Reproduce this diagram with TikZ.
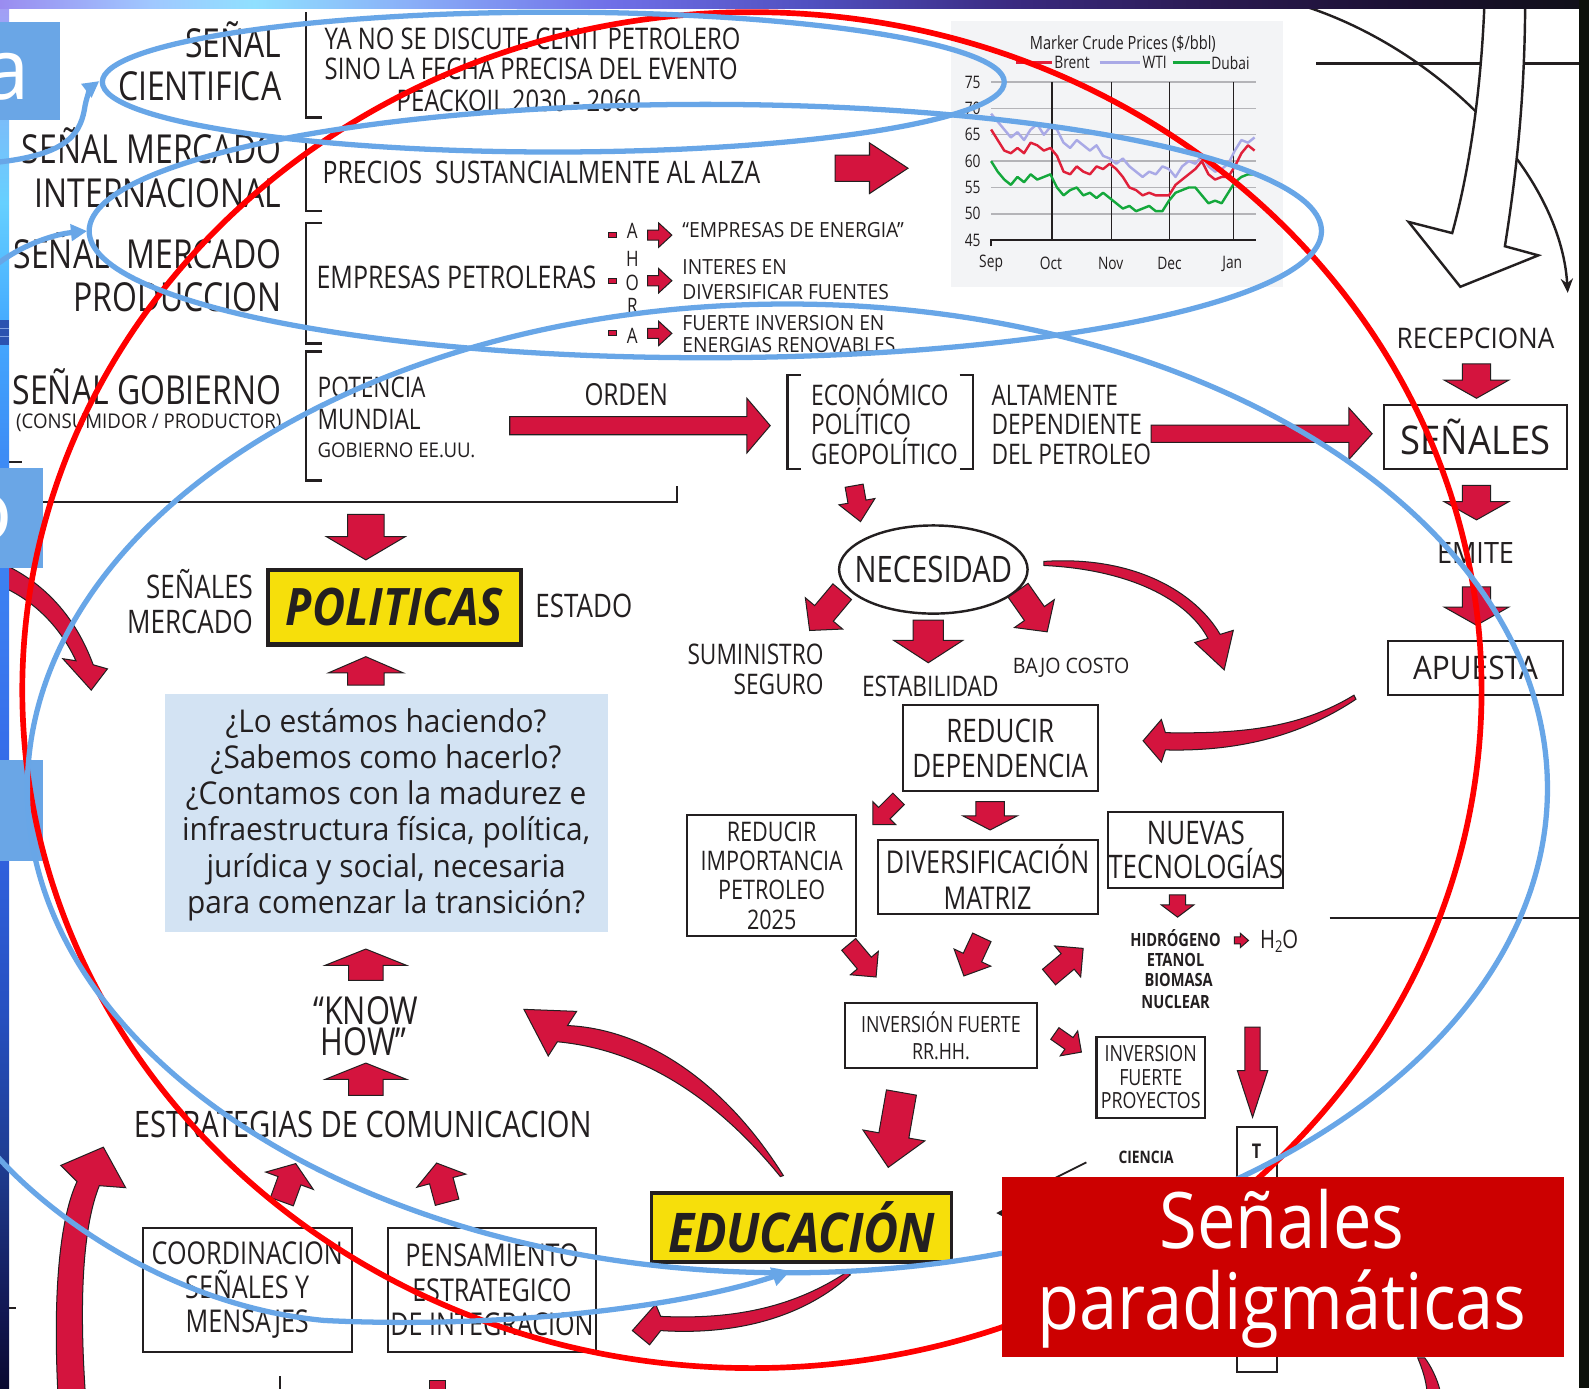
\documentclass[tikz,border=0pt]{standalone}
\usepackage{fontspec}
\usetikzlibrary{shapes.geometric,arrows.meta}
\newfontfamily\cf[FakeStretch=0.8]{Open Sans}
\newfontfamily\cfw[FakeStretch=0.92]{Open Sans}
\newfontfamily\qf[FakeStretch=0.95]{Open Sans}
\newfontfamily\pf[FakeStretch=0.88]{Open Sans}
\newfontfamily\tabf{Open Sans}
\newcommand\fz[2]{\fontsize{#1}{#2}\selectfont}
\definecolor{ink}{HTML}{231F20}
\definecolor{arrred}{HTML}{D4143E}
\definecolor{ylw}{HTML}{F6DF0B}
\definecolor{qblue}{HTML}{D3E3F3}
\definecolor{ovblue}{HTML}{68A6E7}
\definecolor{ovred}{HTML}{FF0000}
\definecolor{boxred}{HTML}{CC0000}
\definecolor{tabblue}{HTML}{6AA6E6}
\definecolor{chartbg}{HTML}{F3F4F6}
\definecolor{gridc}{HTML}{B4B4B8}
\definecolor{brent}{HTML}{E0203A}
\definecolor{wti}{HTML}{A9A9E6}
\definecolor{dubai}{HTML}{14A83C}
\definecolor{rdark}{HTML}{0D110B}
\definecolor{stripdk}{HTML}{2A52B0}
\definecolor{stripln}{HTML}{7FA0E0}
% left frame strip, top to bottom
\definecolor{ls1}{HTML}{A59CF5}
\definecolor{ls2}{HTML}{7FB9F8}
\definecolor{ls3}{HTML}{66D0FF}
\definecolor{ls4}{HTML}{44AAFF}
\definecolor{ls5}{HTML}{3D8CF5}
\definecolor{ls6}{HTML}{3B7CF0}
\definecolor{ls7}{HTML}{3366E6}
\definecolor{ls8}{HTML}{2650C0}
\definecolor{ls9}{HTML}{1E3C90}
\definecolor{ls10}{HTML}{121650}
\definecolor{ls11}{HTML}{0A0A30}
% top frame strip, left to right
\definecolor{ts1}{HTML}{9A8CF0}
\definecolor{ts2}{HTML}{A0C8FF}
\definecolor{ts3}{HTML}{90E0FF}
\definecolor{ts4}{HTML}{8AB0F8}
\definecolor{ts5}{HTML}{7070E8}
\definecolor{ts6}{HTML}{5050C0}
\definecolor{ts7}{HTML}{3A2A80}
\definecolor{ts8}{HTML}{2A1A50}
\definecolor{ts9}{HTML}{1A1030}
\definecolor{ts10}{HTML}{101018}
\pgfdeclareverticalshading{lstrip}{100bp}{color(0bp)=(ls11); color(25bp)=(ls11); color(27.55bp)=(ls10); color(33bp)=(ls9); color(38.5bp)=(ls8); color(45.8bp)=(ls7); color(52.4bp)=(ls6); color(58.6bp)=(ls5); color(63.3bp)=(ls4); color(67.7bp)=(ls3); color(71.35bp)=(ls2); color(75bp)=(ls1); color(100bp)=(ls1)}
\pgfdeclarehorizontalshading{tstrip}{100bp}{color(0bp)=(ts1); color(25bp)=(ts1); color(29.8bp)=(ts2); color(33bp)=(ts3); color(37.8bp)=(ts4); color(44.1bp)=(ts5); color(50.5bp)=(ts6); color(56.9bp)=(ts7); color(63.3bp)=(ts8); color(69.6bp)=(ts9); color(75bp)=(ts10); color(100bp)=(ts10)}

\begin{document}
\begin{tikzpicture}[x=0.5pt,y=-0.5pt,
  txt/.style={inner sep=0pt, text=ink},
  lab/.style={txt, font={\cf\fz{19.7pt}{21.5pt}}, align=right, anchor=base east},
  mid/.style={txt, font={\cf\fz{14.7pt}{15pt}}, align=left, anchor=base west},
  sml/.style={txt, font={\cfw\fz{10.3pt}{12pt}}, align=left, anchor=base west},
  box/.style={draw=ink, line width=1pt, fill=white, inner sep=0pt, text=ink, align=center},
  ybox/.style={draw=ink, line width=2pt, fill=ylw, inner sep=0pt, text=ink},
  brk/.style={draw=ink, line width=1.2pt},
  bar/.style={fill=arrred, draw=ink, line width=0.5pt, line join=miter},
  ovb/.style={draw=ovblue, line width=2.6pt},
  ovr/.style={draw=ovred, line width=2.8pt},
  ctxt/.style={txt, font={\cf\fz{8.5pt}{9pt}}},
  pics/barrow/.style n args={4}{code={
    \path[bar] ({-#1/2},{-#2/2}) -- ({#1/2-#4},{-#2/2}) -- ({#1/2-#4},{-#3/2}) -- ({#1/2},0)
      -- ({#1/2-#4},{#3/2}) -- ({#1/2-#4},{#2/2}) -- ({-#1/2},{#2/2}) -- cycle;}}
]
\useasboundingbox (0,0) rectangle (1568,1370);
\fill[white] (0,0) rectangle (1568,1370);

% ---------- price chart ----------
\fill[chartbg] (938,21) rectangle (1266,283);
\foreach \yy in {81,107,133,159,185,211} \draw[gridc, line width=0.7pt] (978,\yy) -- (1239,\yy);
\foreach \xx in {1038,1097,1154,1217} \draw[ink, line width=0.7pt] (\xx,81) -- (\xx,237);
\draw[ink, line width=0.8pt] (978,243) -- (978,237) -- (1239,237);
\foreach \v/\yy in {75/81,70/107,65/133,60/159,55/185,50/211,45/237}
  \node[ctxt, anchor=east] (yl\v) at (968,\yy) {\v};
\foreach \m/\xx in {Sep/978,Oct/1037,Nov/1096,Dec/1154,Jan/1216}
  \node[ctxt] (xl\m) at (\xx,260) {\m};
\node[ctxt, font={\cf\fz{9pt}{9pt}}] (ctitle) at (1108,43) {Marker Crude Prices (\$/bbl)};
\draw[brent, line width=1.6pt] (1003,62) -- (1038,62);
\node[ctxt, anchor=west] (lbrent) at (1040,62) {Brent};
\draw[wti, line width=1.6pt] (1085,62) -- (1125,62);
\node[ctxt, anchor=west] (lwti) at (1127,62) {WTI};
\draw[dubai, line width=1.6pt] (1157,62) -- (1194,62);
\node[ctxt, anchor=west] (ldubai) at (1195,62) {Dubai};
\begin{scope}[shift={(978,471)}, x=3.25pt, y=2.6pt, line width=1.2pt, line join=round]
  \draw[wti] plot coordinates {(0,69) (1,67.5) (2,66) (3,64.5) (4,65.5) (5,64) (6,66) (7,67) (8,65) (9,66.5) (10,66) (11,63.5) (12,62.5) (13,64) (14,63) (15,62) (16,63) (17,61) (18,60.5) (19,59.5) (20,60.5) (21,59) (22,58) (23,57) (24,58) (25,57.5) (26,59) (27,58.5) (28,57) (29,59) (30,60) (31,59.5) (32,61) (33,59) (34,58) (35,58.5) (36,59.5) (37,62) (38,64) (39,63.5) (40,64.5)};
  \draw[brent] plot coordinates {(0,66) (1,64) (2,62) (3,61.5) (4,62.5) (5,61.5) (6,63.5) (7,63) (8,62) (9,62.5) (10,61) (11,58) (12,57.5) (13,59) (14,58) (15,57.5) (16,59) (17,58.5) (18,59.5) (19,58.5) (20,57) (21,55) (22,54.5) (23,53.5) (24,54) (25,53.5) (26,53.5) (27,53.5) (28,55.5) (29,56.5) (30,57.5) (31,58.5) (32,60) (33,57.5) (34,56.5) (35,57) (36,57) (37,59) (38,61.5) (39,63) (40,62)};
  \draw[dubai] plot coordinates {(0,60) (1,58) (2,56.5) (3,55.5) (4,57) (5,56) (6,57.5) (7,56.5) (8,57) (9,57.5) (10,55) (11,53.5) (12,54.5) (13,55) (14,53.5) (15,54) (16,53) (17,54) (18,53) (19,52) (20,51) (21,51.5) (22,50.5) (23,51) (24,51.5) (25,50.5) (26,50.5) (27,52.5) (28,54) (29,54.5) (30,55) (31,55) (32,53.5) (33,52) (34,52.5) (35,52) (36,54) (37,56) (38,57) (39,57.5) (40,57.5)};
\end{scope}

% ---------- signal rows (multi-line nodes sit on the baseline of their last line) ----------
\node[lab] (lab1) at (278,99.5) {SEÑAL\\CIENTIFICA};
\node[lab] (lab2) at (278,204.5) {SEÑAL MERCADO\\INTERNACIONAL};
\node[lab] (lab3) at (278,307.5) {SEÑAL~~MERCADO\\PRODUCCION};
\node[lab] (lab4) at (278,399.5) {SEÑAL GOBIERNO};
\node[txt, font={\cfw\fz{10pt}{10pt}}, anchor=base east] (lab4b) at (278,423) {(CONSUMIDOR / PRODUCTOR)};

\draw[brk] (302,12) -- (302,116) -- (318,116);
\draw[brk] (302,141) -- (302,208) -- (318,208);
\draw[brk] (318,220) -- (302,220) -- (302,339) -- (318,339);
\draw[brk] (318,347) -- (302,347) -- (302,474) -- (318,474);
\draw[ink, line width=1pt] (8,495) -- (668,495) -- (668,480);
\draw[ink, line width=1pt] (8,456) -- (22,456);

\node[mid] (sc) at (320,78.5) {YA NO SE DISCUTE CENIT PETROLERO\\SINO LA FECHA PRECISA DEL EVENTO};
\node[txt, font={\cf\fz{14.7pt}{15pt}}, anchor=base] (peak) at (512,110.5) {PEACKOIL 2030 - 2060};
\node[mid, font={\cf\fz{15.3pt}{15pt}}] (prec) at (318,181.5) {PRECIOS~~SUSTANCIALMENTE AL ALZA};
\pic (arPrec) at (860,166) {barrow={72}{26}{50}{38}};
\node[mid, font={\cf\fz{15.4pt}{16pt}}] (emp) at (312,285) {EMPRESAS PETROLERAS};

\foreach \yy in {231.5,277,329} \path[bar] (600,\yy-2.5) rectangle (608,\yy+2.5);
\node[txt, font={\cf\fz{10.5pt}{10pt}}, anchor=base] (ah1) at (624,235.5) {A};
\node[txt, font={\cf\fz{10.5pt}{10pt}}, anchor=base] (ah2) at (624,262.5) {H};
\node[txt, font={\cf\fz{10.5pt}{10pt}}, anchor=base] (ah3) at (624,286.5) {O};
\node[txt, font={\cf\fz{10.5pt}{10pt}}, anchor=base] (ah4) at (624,309.5) {R};
\node[txt, font={\cf\fz{10.5pt}{10pt}}, anchor=base] (ah5) at (624,338.5) {A};
\pic (sa1) at (651,232) {barrow={24}{10}{24}{13}};
\pic (sa2) at (651,277) {barrow={24}{10}{24}{13}};
\pic (sa3) at (651,329) {barrow={24}{10}{24}{13}};
\node[sml] (ener) at (673,234) {“EMPRESAS DE ENERGIA”};
\node[sml, font={\cfw\fz{10.3pt}{12.5pt}}] (dive) at (673,296) {INTERES EN\\DIVERSIFICAR FUENTES};
\node[sml, font={\cfw\fz{10.3pt}{11pt}}] (reno) at (673,348) {FUERTE INVERSION EN\\ENERGIAS RENOVABLES};

\node[mid, font={\cf\fz{14pt}{16pt}}] (pot) at (313,424) {POTENCIA\\MUNDIAL};
\node[txt, font={\cfw\fz{10pt}{10pt}}, anchor=base west] (gob) at (313,451) {GOBIERNO EE.UU.};
\node[txt, font={\cf\fz{15pt}{15pt}}, anchor=base] (orden) at (618,400) {ORDEN};
\pic (arOrden) at (631.5,420) {barrow={257}{18}{54}{23}};
\draw[brk] (790,370) -- (777,370) -- (777,463) -- (790,463);
\draw[brk] (947,370) -- (960,370) -- (960,463) -- (947,463);
\node[mid, font={\cf\fz{14pt}{14.5pt}}] (eco) at (800,458) {ECONÓMICO\\POLÍTICO\\GEOPOLÍTICO};
\node[mid, font={\cf\fz{14pt}{14.5pt}}] (alt) at (978,458) {ALTAMENTE\\DEPENDIENTE\\DEL PETROLEO};
\pic (arAlt) at (1245,428) {barrow={218}{17}{51}{23}};

% ---------- right column ----------
\draw[ink, line width=1.2pt] (1299,62.5) -- (1568,62.5);
\coordinate (tc1) at (1290,7);
\coordinate (tc2) at (1547,289);
\draw[ink, line width=1.2pt, -{Stealth[length=7pt,width=6pt]}] (tc1) .. controls (1420,50) and (1540,170) .. (tc2);
\path[fill=white, draw=ink, line width=1.2pt, line join=miter] (1465,-2) .. controls (1463,60) and (1455,150) .. (1433,230) -- (1390,219) -- (1441,283) -- (1518,252) -- (1485,243) .. controls (1495,180) and (1505,100) .. (1505,-2);
\draw[ink, line width=1.2pt] (1312,906) -- (1568,906);

\node[txt, font={\cfw\fz{14pt}{14pt}}, anchor=base] (recep) at (1456,344) {RECEPCIONA};
\pic[rotate=-90] (arR1) at (1457,376) {barrow={34}{28}{64}{18}};
\node[box, minimum width=90pt, minimum height=31.5pt, font={\cfw\fz{19.5pt}{20pt}}] (senales) at (1456,431.5) {SEÑALES};
\pic[rotate=-90] (arR2) at (1457,496) {barrow={34}{28}{64}{18}};
\node[txt, font={\cfw\fz{14.5pt}{14pt}}, anchor=base] (emite) at (1456,556) {EMITE};
\pic[rotate=-90] (arR3) at (1457,598) {barrow={38}{28}{64}{18}};
\node[box, minimum width=86pt, minimum height=26.5pt, font={\cfw\fz{16pt}{16pt}}] (apuesta) at (1456,659.5) {APUESTA};

% ---------- necesidad branch ----------
\pic[rotate=-80] (arNec) at (846,497) {barrow={36}{18}{36}{20}};
\node[draw=ink, line width=1.2pt, ellipse, minimum width=93pt, minimum height=43.5pt, inner sep=0pt, fill=white] (nec) at (921,562) {};
\node[txt, font={\cf\fz{18pt}{18pt}}] (nect) at (nec.center) {NECESIDAD};
\pic[rotate=-130] (arN1) at (815,603) {barrow={50}{24}{48}{22}};
\pic[rotate=-90] (arN2) at (916,633) {barrow={42}{30}{68}{22}};
\pic[rotate=-55] (arN3) at (1019,603) {barrow={50}{24}{48}{22}};
\node[txt, font={\cf\fz{14pt}{14.5pt}}, align=right, anchor=base east] (sum) at (813,685) {SUMINISTRO\\SEGURO};
\node[txt, font={\cf\fz{14pt}{14pt}}, anchor=base] (estab) at (918,687) {ESTABILIDAD};
\node[txt, font={\cfw\fz{10.5pt}{10pt}}, anchor=base] (bajo) at (1057,664.5) {BAJO COSTO};
\path[bar] (1030,554) .. controls (1120,548) and (1180,585) .. (1204,626) -- (1217,622) -- (1208,661) -- (1179,634) -- (1192,630) .. controls (1172,592) and (1115,562) .. (1030,558) -- cycle;
\path[bar] (1336,686) .. controls (1280,720) and (1220,724) .. (1150,723) -- (1146,710) -- (1128,731) -- (1146,752) -- (1150,740) .. controls (1230,742) and (1290,722) .. (1338,690) -- cycle;

\node[box, minimum width=96pt, minimum height=42.5pt, font={\cf\fz{16pt}{17.5pt}}] (redep) at (987,738.5) {REDUCIR\\DEPENDENCIA};
\pic[rotate=-135] (arD1) at (874,801) {barrow={36}{16}{32}{16}};
\pic[rotate=-90] (arD2) at (977,805) {barrow={28}{28}{54}{14}};
\node[box, minimum width=83.5pt, minimum height=60pt, font={\cf\fz{13.3pt}{14.5pt}}] (redimp) at (761.5,864) {REDUCIR\\IMPORTANCIA\\PETROLEO\\2025};
\node[box, minimum width=108.5pt, minimum height=36.5pt, font={\cf\fz{15.5pt}{18pt}}] (divers) at (974.5,865.5) {DIVERSIFICACIÓN\\MATRIZ};
\node[box, minimum width=86pt, minimum height=37.5pt, font={\cf\fz{16pt}{16.5pt}}] (nuevas) at (1180,838.5) {NUEVAS\\TECNOLOGÍAS};
\pic[rotate=-90] (arD3) at (1162,894) {barrow={22}{16}{32}{12}};
\node[txt, font={\cf\bfseries\fz{9pt}{9pt}}, anchor=base] (hid) at (1160,933.5) {HIDRÓGENO};
\pic (arH) at (1225,928) {barrow={14}{7}{14}{8}};
\node[txt, font={\cf\fz{12.5pt}{12pt}}, anchor=base west] (h2o) at (1243,935.5) {H\raisebox{-0.35ex}{\fz{8pt}{8pt}2}O};
\node[txt, font={\cf\bfseries\fz{9pt}{9pt}}, anchor=base] (etan) at (1160,953.5) {ETANOL};
\node[txt, font={\cf\bfseries\fz{9pt}{9pt}}, anchor=base] (biom) at (1163,973.5) {BIOMASA};
\node[txt, font={\cf\bfseries\fz{9pt}{9pt}}, anchor=base] (nucl) at (1160,995.5) {NUCLEAR};
\pic[rotate=-50] (arM1) at (851,948) {barrow={42}{18}{36}{18}};
\pic[rotate=-115] (arM2) at (960,944) {barrow={42}{20}{40}{20}};
\pic[rotate=40] (arM3) at (1052,950) {barrow={44}{20}{40}{20}};
\node[box, minimum width=94.5pt, minimum height=32pt, font={\cf\fz{11pt}{13pt}}] (invrh) at (928.5,1022) {INVERSIÓN FUERTE\\RR.HH.};
\pic[rotate=-35] (arM4) at (1054,1029) {barrow={32}{14}{30}{15}};
\node[box, minimum width=53.5pt, minimum height=40pt, font={\cf\fz{11pt}{11.5pt}}] (invpr) at (1135.5,1063) {INVERSION\\FUERTE\\PROYECTOS};
\pic[rotate=-90] (arLong) at (1236,1058) {barrow={89}{15}{30}{46}};
\node[box, minimum width=19.5pt, minimum height=121pt] (tbox) at (1240.5,1233) {};
\node[txt, font={\cf\bfseries\fz{10pt}{10pt}}, anchor=base] (tlet) at (1240,1143) {T};
\node[txt, font={\cf\bfseries\fz{8.5pt}{8pt}}, anchor=base] (cien) at (1131,1148) {CIENCIA};
\coordinate (cl1) at (1072,1147);
\coordinate (cl2) at (1030,1168);
\draw[ink, line width=0.9pt] (cl1) -- (cl2);
\pic[rotate=-100] (arEdu) at (883,1115) {barrow={75}{30}{62}{32}};

% ---------- politics / education branch ----------
\pic[rotate=-90] (arPol1) at (361,530) {barrow={45}{36}{78}{23}};
\node[txt, font={\cf\fz{16pt}{17pt}}, align=right, anchor=base east] (senmer) at (250,625) {SEÑALES\\MERCADO};
\node[ybox, minimum width=125pt, minimum height=37pt, font={\pf\bfseries\itshape\fz{25.5pt}{25pt}}] (polit) at (389,599) {POLITICAS};
\node[txt, font={\cf\fz{16pt}{16pt}}, anchor=base west] (estado) at (528,609) {ESTADO};
\pic[rotate=90] (arPol2) at (361,662) {barrow={28}{36}{74}{16}};
\node[fill=qblue, minimum width=218.5pt, minimum height=117.5pt, inner sep=0pt] (qbox) at (381.5,802.5) {};
\node[txt, font={\qf\fz{15.5pt}{17.8pt}}, align=center, anchor=base] (qtext) at (381,901) {¿Lo estámos haciendo?\\¿Sabemos como hacerlo?\\¿Contamos con la madurez e\\infraestructura física, política,\\jurídica y social, necesaria\\para comenzar la transición?};
\pic[rotate=90] (arK1) at (361,952) {barrow={31}{34}{80}{16}};
\node[txt, font={\cf\fz{19pt}{19pt}}, anchor=base] (know1) at (361,1010.5) {“KNOW};
\node[txt, font={\cf\fz{19pt}{19pt}}, anchor=base] (know2) at (359,1041.5) {HOW”};
\pic[rotate=90] (arK2) at (361,1065) {barrow={32}{34}{80}{16}};
\node[txt, font={\cf\fz{18pt}{17pt}}, anchor=base] (estr) at (358,1122) {ESTRATEGIAS DE COMUNICACION};
\pic[rotate=70] (arS1) at (285,1167) {barrow={40}{24}{50}{18}};
\pic[rotate=105] (arS2) at (436,1167) {barrow={40}{24}{50}{18}};
\node[box, minimum width=103pt, minimum height=61pt, font={\cf\fz{15.5pt}{17pt}}] (coord) at (244,1273) {COORDINACION\\SEÑALES Y\\MENSAJES};
\node[box, minimum width=102.5pt, minimum height=61pt, font={\cf\fz{15.5pt}{17pt}}] (pens) at (485.5,1273) {PENSAMIENTO\\ESTRATEGICO\\DE INTEGRACION};
\node[ybox, line width=1.8pt, minimum width=148pt, minimum height=34pt, font={\pf\bfseries\itshape\fz{27pt}{27pt}}] (educ) at (791,1211) {EDUCACIÓN};
\path[bar] (773,1160) .. controls (710,1060) and (630,1015) .. (560,1012) -- (569,998) -- (517,996) -- (541,1042) -- (550,1028) .. controls (625,1035) and (700,1075) .. (770,1161) -- cycle;
\path[bar] (836,1255) .. controls (780,1292) and (720,1302) .. (652,1299) -- (647,1287) -- (624,1313) -- (641,1327) -- (652,1313) .. controls (730,1318) and (795,1298) .. (839,1258) -- cycle;
\coordinate (ea1) at (1000,1197);
\coordinate (ea2) at (983,1197);
\draw[ink, line width=1pt, -{Triangle[length=5pt,width=5pt]}] (ea1) -- (ea2);

% side arrows
\path[bar] (0,555) .. controls (45,575) and (75,610) .. (92,656) -- (106,660) -- (90,681) -- (62,650) -- (75,652) .. controls (60,620) and (35,593) .. (0,578) -- cycle;
\path[bar] (57,1372) .. controls (52,1270) and (60,1200) .. (76,1166) -- (60,1150) -- (102,1132) -- (124,1172) -- (98,1170) .. controls (82,1210) and (78,1280) .. (84,1372) -- cycle;
\path[bar] (1399,1340) .. controls (1404,1352) and (1407,1362) .. (1408,1372) -- (1421,1372) .. controls (1418,1360) and (1412,1348) .. (1406,1340) -- cycle;
\draw[ink, line width=1pt] (276,1358) -- (276,1372);
\path[bar] (424,1362) rectangle (440,1374);
\draw[ink, line width=1pt] (8,1291) -- (16,1291);

% ---------- slide frame and tabs ----------
\shade[shading=lstrip] (0,0) rectangle (9,1370);
\shade[shading=tstrip] (0,0) rectangle (1568,8);
\fill[rdark] (1558,0) rectangle (1568,1370);
\fill[stripdk] (0,316) rectangle (9,340);
\draw[stripln, line width=0.6pt] (0,324) -- (9,324) (0,332) -- (9,332);
\fill[tabblue] (0,22) rectangle (59,118);
\node[inner sep=0pt, text=white, font={\tabf\fz{42pt}{42pt}}, anchor=base east] (taba) at (30,98) {a};
\fill[tabblue] (0,462) rectangle (42,560);
\node[inner sep=0pt, text=white, font={\tabf\fz{42pt}{42pt}}, anchor=base east] (tabo) at (13,533) {o};
\fill[tabblue] (0,750) rectangle (42,850);

% ---------- overlay rings ----------
\draw[ovr] (742,681) ellipse [x radius=720, y radius=669];
\draw[ovb] (546,81) ellipse [x radius=445, y radius=69];
\draw[ovb] (696,228) ellipse [x radius=608, y radius=125];
\draw[ovb] (777,778) ellipse [x radius=750, y radius=478];
\coordinate (ba1s) at (-2,160);
\coordinate (ba1e) at (98,80);
\draw[ovb, -{Triangle[length=8pt,width=8pt]}] (ba1s) .. controls (70,152) and (80,130) .. (84,104) .. controls (86,94) and (90,86) .. (ba1e);
\coordinate (ba2s) at (-2,260);
\coordinate (ba2e) at (86,228);
\draw[ovb, -{Triangle[length=8pt,width=8pt]}] (ba2s) .. controls (25,240) and (55,231) .. (ba2e);
\coordinate (ba3s) at (-2,1142);
\coordinate (ba3e) at (780,1254);
\draw[ovb, -{Triangle[length=9pt,width=9pt]}] (ba3s) .. controls (60,1210) and (180,1290) .. (320,1303) .. controls (500,1312) and (680,1288) .. (ba3e);

% ---------- caption box ----------
\node[fill=boxred, minimum width=277pt, minimum height=89pt, inner sep=0pt] (redbox) at (1266,1250) {};
\node[inner sep=0pt, text=white, font={\pf\fz{38.5pt}{40pt}}, align=center, anchor=base] (redtxt) at (1265,1312) {Señales\\paradigmáticas};
\end{tikzpicture}
\end{document}
